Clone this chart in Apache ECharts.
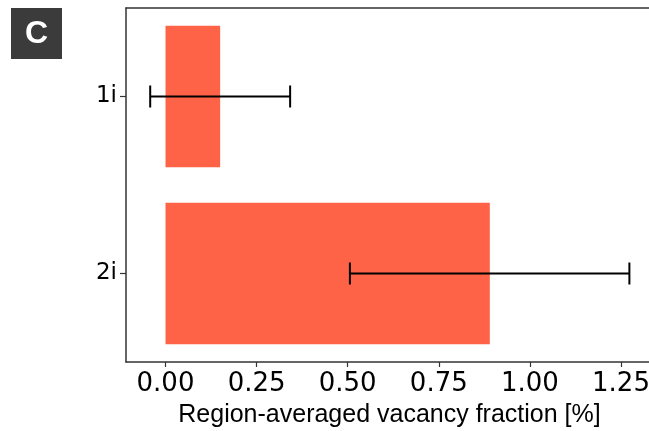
<!DOCTYPE html>
<html>
<head>
<meta charset="utf-8">
<script src="https://cdn.jsdelivr.net/npm/echarts@6/dist/echarts.min.js"></script>
<style>html,body{margin:0;padding:0;background:#fff;}#c{width:649px;height:431px;}</style>
</head>
<body>
<div id="c"></div>
<script>
// Data
var categories = ['1i', '2i'];
var barValues = [0.15, 0.89];
var errLow = [-0.042, 0.506];
var errHigh = [0.342, 1.273];
var xTickValues = [0, 0.25, 0.5, 0.75, 1.0, 1.25];
var xAxisTitle = 'Region-averaged vacancy fraction [%]';
var panelLabel = 'C';

var errData = categories.map(function (c, i) { return [errLow[i], errHigh[i], i]; });

var chart = echarts.init(document.getElementById('c'), null, {renderer: 'canvas'});
var axisCol = '#333333';
chart.setOption({
  animation: false,
  backgroundColor: '#ffffff',
  grid: {left: 126, right: -4, top: 8, bottom: 69, show: false, containLabel: false, outerBoundsMode: 'none'},
  xAxis: [{
    type: 'value', min: -0.1084, max: 1.3378,
    name: xAxisTitle, nameLocation: 'middle', nameGap: 41,
    nameTextStyle: {fontFamily: 'Liberation Sans', fontSize: 25, color: '#000'},
    splitLine: {show: false},
    axisLine: {show: true, onZero: false, lineStyle: {color: axisCol, width: 1.5}},
    axisTick: {show: true, length: 5, lineStyle: {color: axisCol, width: 1.2}, customValues: xTickValues},
    axisLabel: {customValues: xTickValues, fontFamily: 'DejaVu Sans', fontSize: 26, color: '#000', margin: 9,
      formatter: function (v) { return v.toFixed(2); }}
  }, {
    type: 'value', position: 'top', min: -0.1084, max: 1.3378,
    splitLine: {show: false}, axisTick: {show: false}, axisLabel: {show: false},
    axisLine: {show: true, onZero: false, lineStyle: {color: axisCol, width: 1.5}}
  }],
  yAxis: {
    type: 'category', data: categories, inverse: true,
    axisLine: {show: true, onZero: false, lineStyle: {color: axisCol, width: 1.5}},
    axisTick: {show: true, alignWithLabel: true, length: 6, lineStyle: {color: axisCol, width: 1.2}},
    axisLabel: {fontFamily: 'DejaVu Sans', fontSize: 23, color: '#000', margin: 9},
    splitLine: {show: false}
  },
  series: [
    {type: 'bar', data: barValues, barWidth: '80%', itemStyle: {color: '#FF6347'}, silent: true},
    {type: 'custom', data: errData, silent: true, z: 10,
      renderItem: function (params, api) {
        var lo = api.coord([api.value(0), api.value(2)]);
        var hi = api.coord([api.value(1), api.value(2)]);
        var y = lo[1], h = 11;
        var st = {stroke: '#000', lineWidth: 2};
        return {type: 'group', children: [
          {type: 'line', shape: {x1: lo[0], y1: y, x2: hi[0], y2: y}, style: st},
          {type: 'line', shape: {x1: lo[0], y1: y - h, x2: lo[0], y2: y + h}, style: st},
          {type: 'line', shape: {x1: hi[0], y1: y - h, x2: hi[0], y2: y + h}, style: st}
        ]};
      }}
  ],
  graphic: [
    {type: 'rect', left: 11, top: 8, shape: {width: 51, height: 51}, style: {fill: '#3b3b3b'}},
    {type: 'text', x: 36.5, y: 34, style: {text: panelLabel, fill: '#fff', font: 'bold 32px "Liberation Sans"', textAlign: 'center', textVerticalAlign: 'middle'}}
  ]
});
</script>
</body>
</html>
